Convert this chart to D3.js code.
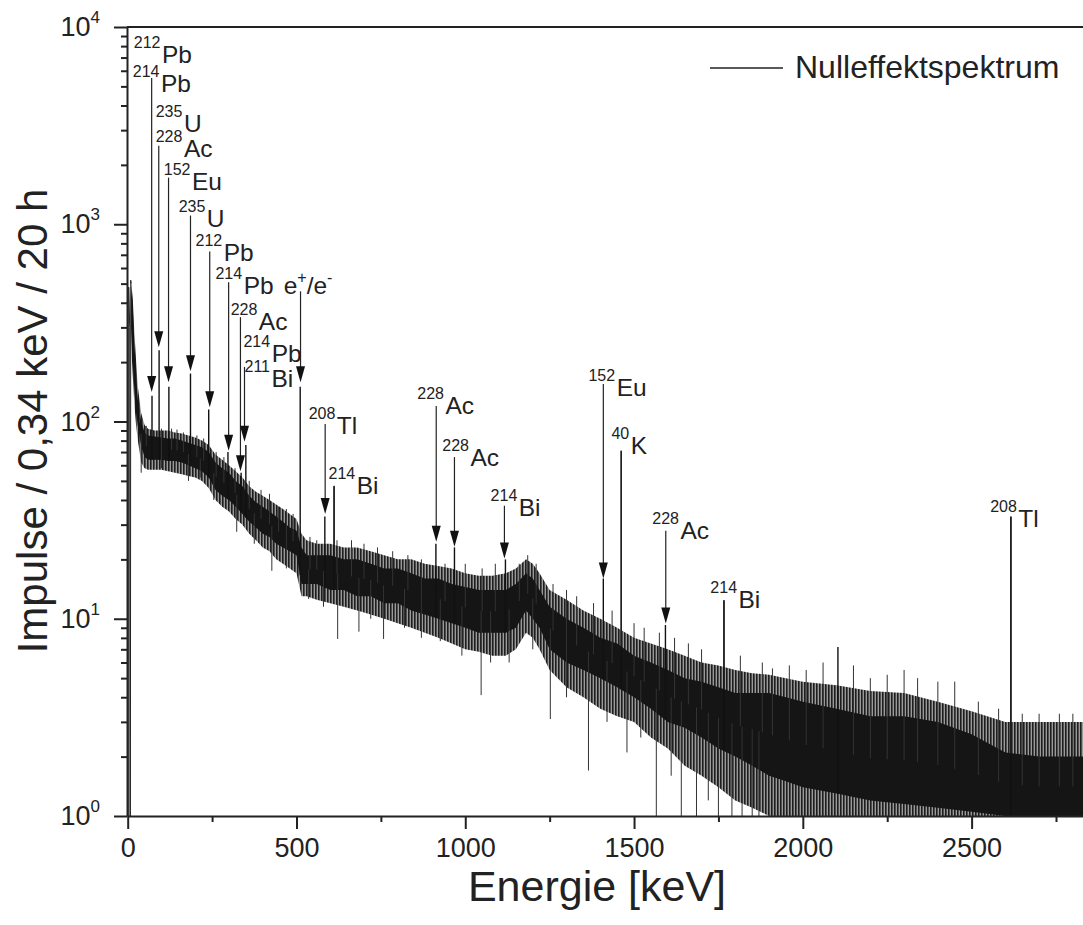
<!DOCTYPE html>
<html>
<head>
<meta charset="utf-8">
<script src="https://cdn.jsdelivr.net/npm/d3@7"></script>
<style>
body { margin: 0; background: #fff; }
text { font-family: "Liberation Sans", Arial, sans-serif; fill: #222; }
</style>
</head>
<body>
<svg id="chart" width="1083" height="925"></svg>
<script>
// spectrum band (keV / counts)
var bandE   = [10,15,20,25,30,40,50,60,80,100,120,140,160,180,200,220,240,260,280,300,320,340,360,380,400,420,440,460,480,500,515,530,560,600,640,680,720,760,800,840,880,920,960,1000,1040,1080,1120,1150,1180,1200,1220,1250,1300,1350,1400,1450,1500,1550,1600,1650,1700,1750,1800,1850,1900,1950,2000,2100,2200,2300,2400,2500,2600,2700,2830];
var coreHi  = [500,380,250,170,130,100,88,85,84,83,82,82,80,78,76,74,70,62,58,55,50,47,42,39,37,35,33,31,29,28,23,21,21,21,20,20,19,18,18,17,16,16,15,14.5,14,14,14,15,17,16,14,11.5,10,9,8,7.5,6.5,6,5.5,5,4.8,4.5,4.2,4.2,4.2,4,3.8,3.5,3.2,3.2,3,2.6,2.1,2,2];
var coreLo  = [300,200,140,110,95,75,66,64,64,64,63,63,62,60,58,56,52,45,42,40,37,34,31,29,27,26,24,23,22,21,15,15,15,14,14,13,13,12,12,11,10.5,10,9.5,9,8.5,8.5,8.5,9,11,10,9,7,6,5.5,5,4.5,4,3.5,3,2.8,2.5,2.2,2,1.8,1.6,1.5,1.4,1.3,1.2,1.15,1.1,1.05,1,1,1];
var outerHi = [520,420,280,200,150,110,96,92,90,90,90,88,87,85,83,80,76,68,64,60,56,52,47,44,42,40,38,36,34,32,27,25,24,24,23,23,22,21,20,20,19,18.5,18,17,16.5,16.5,17,18,20,19,17,14,12.5,11,10,9,8,7.5,7,6.5,6,5.8,5.5,5.3,5.2,5,4.8,4.6,4.3,4.2,3.8,3.4,3,3,3];
var outerLo = [250,170,120,95,80,62,58,57,57,57,56,55,54,53,52,50,46,40,37,35,32,30,27,25,23,22,20,19,18,17,13,13,12.5,12,11.5,11,10.5,10,9.5,9,8.5,8,7.5,7,6.8,6.5,6.5,7,8.5,8,7,5.5,4.5,4,3.5,3.2,3,2.5,2.2,1.8,1.6,1.4,1.2,1.1,1,1,1,1,1,1,1,1,1,1,1];

// leading edge of the spectrum near 0 keV
var edgeE = [3,3,6,7,8,9,10];
var edgeV = [1,480,300,1,1,520,500];

// single outlying channels above / below the band
var spikeE = [35,55,100,130,146,165,205,225,262,285,318,360,395,420,447,470,490,540,560,620,663,700,740,785,830,870,940,1000,1050,1089,1160,1185,1210,1260,1300,1330,1380,1435,1500,1530,1575,1620,1661,1700,1815,1880,1910,1960,2010,2060,2150,2200,2250,2300,2340,2400,2450,2520,2580,2650,2700,2760,2800,
              40,100,180,215,255,323,375,427,470,536,580,622,685,720,758,820,870,926,990,1047,1075,1130,1200,1252,1300,1365,1420,1479,1520,1566,1610,1640,1685,1720,1750,1790,1820,1850,1870];
var spikeV = [115,95,92,92,91,88,85,82,70,66,58,50,45,43,37,36,34,26,25,25,25,24,23,22,21,20,19,19,18,19,19,21,19,15,14,13,12,11,9.5,9,8.5,8,7.5,7,6.5,6,5.6,5.8,5.5,6,5.8,5,5.2,5.5,5,4.8,4.8,3.8,3.5,3.3,3.3,3.3,3.3,
              55,58,50,52,40,27.6,24,17.5,18,12.6,11.5,7.9,8.6,10,7.9,9,8,7.7,6.5,4.1,6,6,7,3.1,4,1.7,3,2.1,2.5,1,1.6,1,1,1.2,1,1,1,1,1];

// photo peaks
var peakE = [72,93,122,186,240,297,336,350,511,584,611,913,968,1119,1409,1462,1593,1766,2104,2616];
var peakV = [135,230,150,175,115,70,55,76,150,33,47,24,23,20,16,71,9.3,12.4,7.2,33];

// marker lines: energy, top of line, arrow tip (null = plain line)
var markE   = [71,92,121,186,243,299,334,346,512,585,914,968,1116,1409,1594,612,1462,1767,2617];
var markTop = [5521,2502,1723,1107,728,508,338,189,457,97,120,66,37.4,155,27.9,47.2,71,12.4,32.9];
var markTip = [141,238,158,180,118,71,56,79,158,34,24.6,23.2,20.2,16,9.46,null,null,null,null];

// labels: mass number, element, label anchor (keV, counts)
var labMass = ["212","214","235","228","152","235","212","214","","228","214","211","208","214","228","228","214","152","40","228","214","208"];
var labElem = ["Pb","Pb","U","Ac","Eu","U","Pb","Pb","e+/e-","Ac","Pb","Bi","Tl","Bi","Ac","Ac","Bi","Eu","K","Ac","Bi","Tl"];
var labE = [18,15,83,83,107,151,201,260,462,305,343,346,536,595,858,932,1075,1365,1433,1554,1726,2555];
var labV = [6577,4690,2944,2202,1499,974,648,441,441,290,200,149,86.4,43,109,59.6,33.3,134.6,68.5,25.5,11.3,29.3];

var xTicks = [0,500,1000,1500,2000,2500];
var yTicks = [1,10,100,1000,10000];
var legendLabel = "Nulleffektspektrum";

var svg = d3.select('#chart');
var x = d3.scaleLinear().domain([0,2830]).range([127.7,1083]);
var y = d3.scaleLog().domain([1,1e4]).range([816,27]);

var defs = svg.append('defs');
defs.append('clipPath').attr('id','plot').append('rect')
	.attr('x',127).attr('y',27).attr('width',956).attr('height',789);
// dense channels drawn as fine vertical hatching
var pat = defs.append('pattern').attr('id','noise').attr('patternUnits','userSpaceOnUse')
	.attr('width',3).attr('height',10);
pat.append('rect').attr('width',3).attr('height',10).attr('fill','#9a9a9a');
pat.append('rect').attr('width',1.6).attr('height',10).attr('fill','#1e1e1e');

var spec = svg.append('g').attr('clip-path','url(#plot)');
var idx = d3.range(bandE.length);

spec.append('path').datum(idx)
	.attr('d', d3.area().x(i => x(bandE[i])).y0(i => y(outerLo[i])).y1(i => y(outerHi[i])))
	.attr('fill','url(#noise)');
spec.append('path').datum(idx)
	.attr('d', d3.area().x(i => x(bandE[i])).y0(i => y(coreLo[i])).y1(i => y(coreHi[i])))
	.attr('fill','#151515');

// band middle, used as foot of spikes and peaks
var midHi = d3.scaleLinear().domain(bandE).range(coreHi).clamp(true);
var midLo = d3.scaleLinear().domain(bandE).range(coreLo).clamp(true);
function mid(e) { return Math.sqrt(midHi(e)*midLo(e)); }

spec.selectAll('line.spike').data(spikeE).enter().append('line')
	.attr('class','spike')
	.attr('x1', d => x(d)).attr('x2', d => x(d))
	.attr('y1', d => y(mid(d))).attr('y2', (d,i) => y(spikeV[i]))
	.attr('stroke','#333').attr('stroke-width',1);

spec.selectAll('line.peak').data(peakE).enter().append('line')
	.attr('class','peak')
	.attr('x1', d => x(d)).attr('x2', d => x(d))
	.attr('y1', d => y(midLo(d))).attr('y2', (d,i) => y(peakV[i]))
	.attr('stroke','#111').attr('stroke-width',1.4);

spec.append('path').datum(d3.range(edgeE.length))
	.attr('d', d3.line().x(i => x(edgeE[i])).y(i => y(edgeV[i])))
	.attr('fill','none').attr('stroke','#222').attr('stroke-width',1);

// markers
var marks = svg.append('g');
marks.selectAll('line').data(markE).enter().append('line')
	.attr('x1', d => x(d)).attr('x2', d => x(d))
	.attr('y1', (d,i) => y(markTop[i]))
	.attr('y2', (d,i) => markTip[i] == null ? y(midHi(d)) : y(markTip[i]) - 8)
	.attr('stroke','#222').attr('stroke-width',1.2);
marks.selectAll('path').data(markE.filter((d,i) => markTip[i] != null)).enter().append('path')
	.attr('d', (d,i) => {
		var tx = x(d), ty = y(markTip[i]);
		return 'M' + (tx-4.5) + ',' + (ty-16) + 'L' + (tx+4.5) + ',' + (ty-16) + 'L' + tx + ',' + ty + 'Z';
	})
	.attr('fill','#111');

// labels
var labs = svg.append('g');
labElem.forEach(function(el, i) {
	var t = labs.append('text').attr('x', x(labE[i])).attr('y', y(labV[i]));
	if (el == 'e+/e-') {
		t.attr('font-size',24.5);
		t.append('tspan').text('e');
		t.append('tspan').attr('font-size',16).attr('dy',-11).text('+');
		t.append('tspan').attr('dy',11).text('/e');
		t.append('tspan').attr('font-size',16).attr('dy',-11).text('-');
	} else {
		t.append('tspan').attr('font-size',16).attr('dy',-15).text(labMass[i]);
		t.append('tspan').attr('font-size',24.5).attr('dy',15).attr('dx',1.5).text(el);
	}
});

// axes
var minorY = [];
yTicks.slice(0,-1).forEach(d => { for (var k = 2; k < 10; k++) minorY.push(d*k); });
var minorX = [250,750,1250,1750,2250,2750];

svg.append('g').attr('transform','translate(127,0)')
	.call(d3.axisLeft(y).tickValues(yTicks).tickSize(13).tickSizeOuter(0).tickFormat(''));
svg.append('g').attr('transform','translate(127,0)')
	.call(d3.axisLeft(y).tickValues(minorY).tickSize(6).tickSizeOuter(0).tickFormat(''))
	.select('.domain').remove();
var xAxis = svg.append('g').attr('transform','translate(0,816)')
	.call(d3.axisBottom(x).tickValues(xTicks).tickSize(13).tickSizeOuter(0).tickPadding(9).tickFormat(d3.format('d')));
svg.append('g').attr('transform','translate(0,816)')
	.call(d3.axisBottom(x).tickValues(minorX).tickSize(6).tickSizeOuter(0).tickFormat(''))
	.select('.domain').remove();
svg.selectAll('.domain').attr('stroke','#222').attr('stroke-width',2);
svg.selectAll('.tick line').attr('stroke','#222').attr('stroke-width',2);
xAxis.selectAll('text').attr('font-size',27).attr('fill','#222').attr('font-family','"Liberation Sans", Arial, sans-serif');

yTicks.forEach(function(d) {
	var t = svg.append('text').attr('x',100).attr('y', y(d) + 9).attr('text-anchor','end').attr('font-size',27);
	t.append('tspan').text('10');
	t.append('tspan').attr('font-size',17).attr('dy',-13).text(Math.round(Math.log10(d)));
});

svg.append('line').attr('x1',127).attr('x2',1083).attr('y1',27).attr('y2',27)
	.attr('stroke','#222').attr('stroke-width',2);

// titles
svg.append('text').attr('x',597).attr('y',901).attr('text-anchor','middle').attr('font-size',43)
	.text('Energie [keV]');
svg.append('text').attr('transform','translate(47,421) rotate(-90)').attr('text-anchor','middle').attr('font-size',42)
	.text('Impulse / 0,34 keV / 20 h');

// legend
svg.append('line').attr('x1',710).attr('x2',783).attr('y1',68).attr('y2',68)
	.attr('stroke','#222').attr('stroke-width',1.5);
svg.append('text').attr('x',795).attr('y',78).attr('font-size',32).text(legendLabel);
</script>
</body>
</html>
